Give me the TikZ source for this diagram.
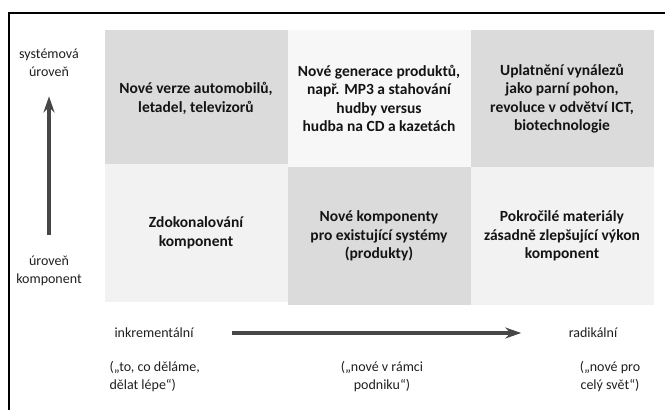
\documentclass[tikz,border=0pt]{standalone}
\usepackage{fontspec}
\setmainfont{Carlito}
\usepackage{tikz}
\usetikzlibrary{positioning, arrows.meta, calc}

\begin{document}
\begin{tikzpicture}[x=1pt, y=-1pt, font=\fontsize{14}{18}\selectfont,
      cell/.style={fill=black!5, align=center, minimum width=183pt, minimum height=138pt, inner sep=4pt, text=black!92, font=\fontsize{15.5}{18.5}\selectfont\bfseries},
      dark/.style={cell, fill=black!14},
      lbl/.style={align=center, text=black!88},
      axis/.style={line width=3.5pt, black!72, -{Stealth[length=16pt, width=11pt]}}]
    \useasboundingbox (0,0) rectangle (665,410);
    % --- frame (cut off at right and bottom) ---
    \draw[line width=2pt] (9,410) -- (9,13) -- (665,13);
    % --- Row 1: system level ---
    \node[dark] (c11) at (196,98.5) {Nové verze automobilů,\\letadel, televizorů};
    \node[cell, fill=black!3] (c12) at (379,98.5) {Nové generace produktů,\\např. MP3 a stahování\\hudby versus\\hudba na CD a kazetách};
    \node[dark] (c13) at (562,98.5) {Uplatnění vynálezů\\jako parní pohon,\\revoluce v odvětví ICT,\\biotechnologie};
    % --- Row 2: component level ---
    \node[cell] (c21) at (196,233) {Zdokonalování\\komponent};
    \node[dark] (c22) at (379,236) {Nové komponenty\\pro existující systémy\\(produkty)};
    \node[cell] (c23) at (562,236) {Pokročilé materiály\\zásadně zlepšující výkon\\komponent};
    % --- vertical axis ---
    \node[lbl] (sys)  at (49,63)  {systémová\\úroveň};
    \node[lbl] (comp) at (49,271) {úroveň\\komponent};
    \draw[axis, shorten <=18pt, shorten >=16pt] (comp.north) -- (sys.south);
    % --- horizontal axis ---
    \node[lbl] (inc) at (154,333) {inkrementální};
    \node[lbl] (rad) at (593,333) {radikální};
    \draw[axis, shorten <=35pt, shorten >=44pt] (inc.east) -- (rad.west);
    \node[lbl, align=left, anchor=west] (q1) at (106,377) {(„to, co děláme,\\dělat lépe“)};
    \node[lbl] (q2) at (382,377) {(„nové v rámci\\podniku“)};
    \node[lbl] (q3) at (610,377) {(„nové pro\\celý svět“)};
  \end{tikzpicture}
\end{document}
